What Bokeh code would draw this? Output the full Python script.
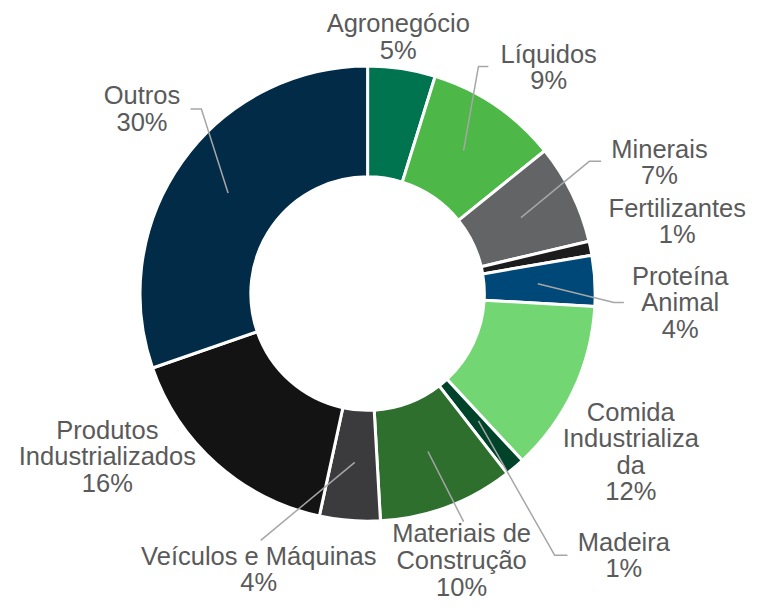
import math
from bokeh.plotting import figure
from bokeh.models import Range1d, ColumnDataSource
from bokeh.core.properties import value
from bokeh.embed import file_html
from bokeh.resources import INLINE

# ---- data ----
categories = ["Agronegócio", "Líquidos", "Minerais", "Fertilizantes", "Proteína Animal",
              "Comida Industrializada", "Madeira", "Materiais de Construção",
              "Veículos e Máquinas", "Produtos Industrializados", "Outros"]
shares = [4.8, 9.4, 7.1, 1.0, 3.6, 12.2, 1.4, 9.6, 4.3, 16.3, 30.3]
label_names = ["Agronegócio", "Líquidos", "Minerais", "Fertilizantes", "Proteína\nAnimal",
               "Comida\nIndustrializa\nda", "Madeira", "Materiais de\nConstrução",
               "Veículos e Máquinas", "Produtos\nIndustrializados", "Outros"]
colors = ["#00744f", "#4db748", "#636466", "#1c1c1c", "#004878", "#72d673",
          "#00432b", "#2f6f2e", "#3b3b3d", "#131313", "#022b47"]

W, H = 760, 611
def Y(py):  # reference pixel row -> data y
    return H - py

# layout (reference pixel coordinates)
cx, cy = 371, 297
r_in, r_out = 118, 230
label_pos = [(402, 36.5), (554, 67.5), (666, 163.5), (684, 223.5), (687, 306),
             (637, 457), (630, 562), (466, 567), (261, 576), (108, 462), (143, 109.5)]
leaders = [
    None,
    [(493, 67), (483, 67), (468, 152)],
    [(607, 163), (595, 163), (526, 220)],
    None,
    [(630, 306), (620, 306), (543, 287)],
    None,
    [(573, 562), (560, 562), (483, 426)],
    [(468, 528), (432, 457)],
    [(263, 547), (358, 468)],
    None,
    [(192, 110), (203, 110), (230, 195)],
]

total = sum(shares)
starts, ends = [], []
cum = 0.0
for s in shares:
    starts.append(math.pi / 2 - 2 * math.pi * cum / total)
    cum += s
    ends.append(math.pi / 2 - 2 * math.pi * cum / total)

src = ColumnDataSource(dict(cat=categories, start=starts, end=ends, color=colors))

p = figure(width=752, height=603, output_backend="svg", toolbar_location=None,
           x_range=Range1d(0, W), y_range=Range1d(0, H), min_border=0)
p.axis.visible = False
p.grid.visible = False
p.outline_line_color = None
p.background_fill_color = "white"

p.annular_wedge(x=cx, y=Y(cy), inner_radius=r_in, outer_radius=r_out,
                start_angle="start", end_angle="end", direction="clock",
                fill_color="color", line_color="white", line_width=3, source=src)

lx, ly = [], []
for lead in leaders:
    if lead:
        lx.append([pt[0] for pt in lead])
        ly.append([Y(pt[1]) for pt in lead])
p.multi_line(xs=lx, ys=ly, line_color="#a6a6a6", line_width=1.5)

texts = [f"{n}\n{round(s / total * 100)}%" for n, s in zip(label_names, shares)]
p.text(x=[q[0] for q in label_pos], y=[Y(q[1]) for q in label_pos], text=texts,
       text_align="center", text_baseline="middle", text_font=value("Liberation Sans"),
       text_font_size="25.5px", text_color="#5a5a5a", text_line_height=0.95)

open("out.html", "w").write(file_html(p, INLINE))
